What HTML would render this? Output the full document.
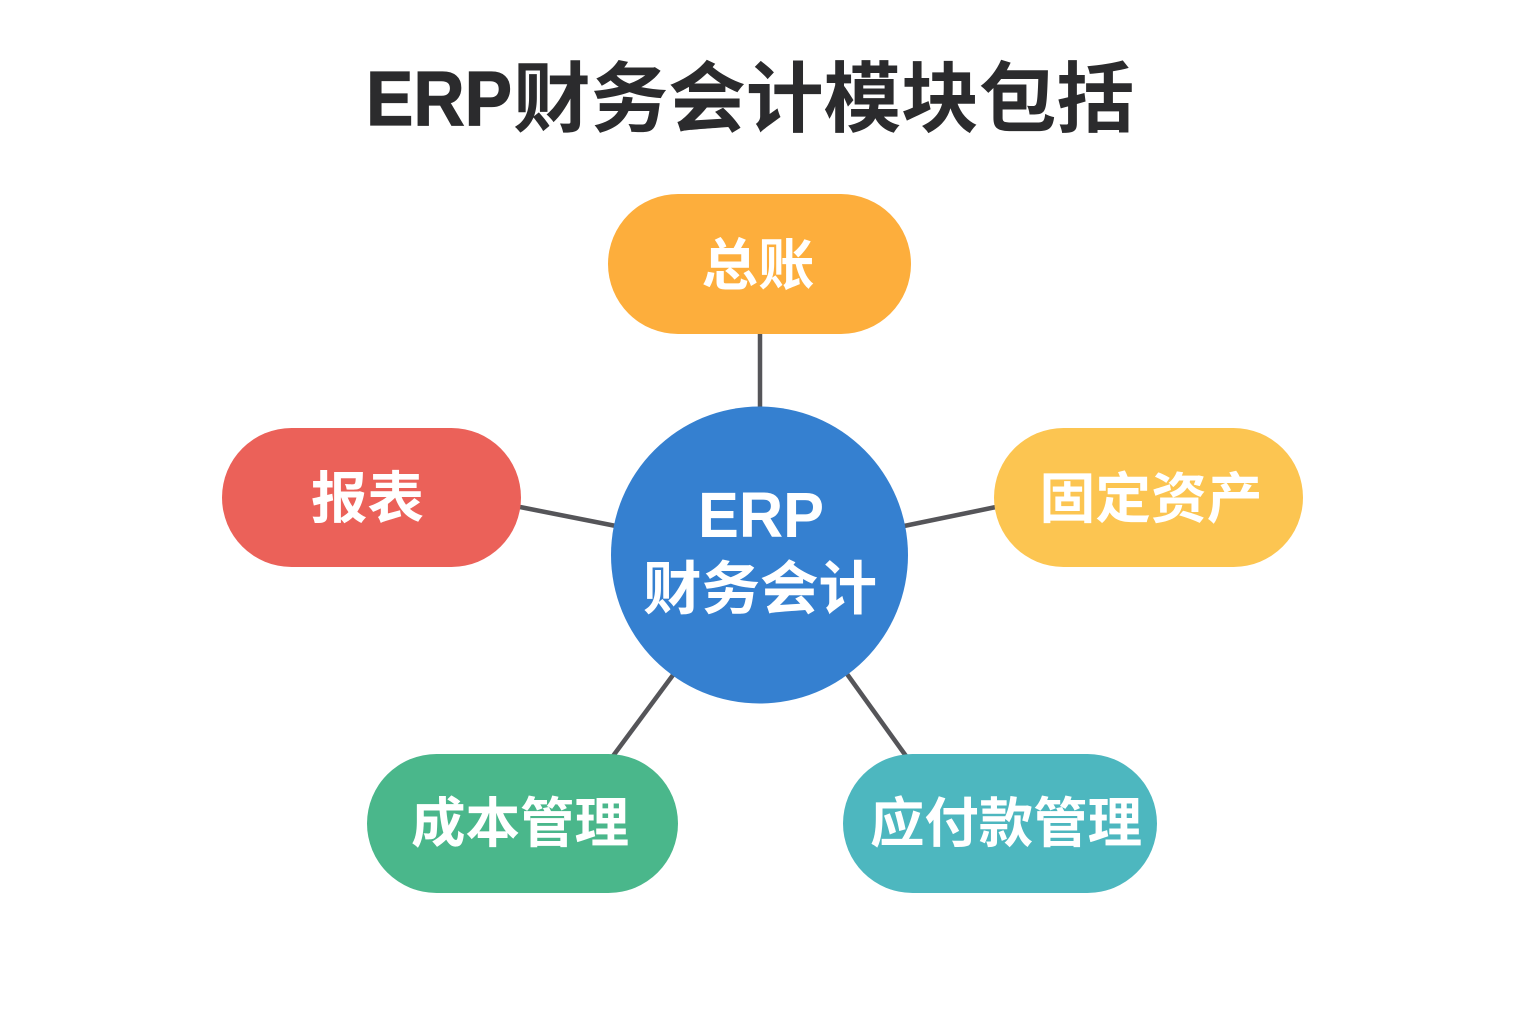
<!DOCTYPE html>
<html lang="zh">
<head>
<meta charset="utf-8">
<style>
html,body{margin:0;padding:0;width:1536px;height:1024px;background:#fff;overflow:hidden}
svg{display:block}
text{font-family:"Liberation Sans","Noto Sans CJK SC",sans-serif;font-weight:700;text-anchor:middle}
</style>
</head>
<body>
<svg width="1536" height="1024" viewBox="0 0 1536 1024" xmlns="http://www.w3.org/2000/svg">
<rect width="1536" height="1024" fill="#ffffff"/>
<text x="366" y="125" font-size="77" fill="#2b2b2d" stroke="#2b2b2d" stroke-width="1.2" style="text-anchor:start" textLength="146" lengthAdjust="spacingAndGlyphs">ERP</text>
<text x="513" y="126" font-size="77" fill="#2b2b2d" style="text-anchor:start" textLength="621" lengthAdjust="spacingAndGlyphs">财务会计模块包括</text>
<g stroke="#555559" stroke-width="4.5" fill="none">
<line x1="760" y1="332" x2="760" y2="408"/>
<line x1="520" y1="507" x2="616" y2="526"/>
<line x1="996" y1="507" x2="904" y2="526"/>
<line x1="613" y1="756" x2="673" y2="675"/>
<line x1="906" y1="756" x2="847" y2="674"/>
</g>
<circle cx="759.5" cy="555" r="148.5" fill="#3580d0"/>
<rect x="608" y="194" width="303" height="140" rx="70" fill="#fdae3c"/>
<rect x="222" y="428" width="299" height="139" rx="69.5" fill="#eb6159"/>
<rect x="994" y="428" width="309" height="139" rx="69.5" fill="#fcc551"/>
<rect x="367" y="754" width="311" height="139" rx="69.5" fill="#4ab78b"/>
<rect x="843" y="754" width="314" height="139" rx="69.5" fill="#4db7bf"/>
<g fill="#ffffff">
<text x="761" y="537" font-size="64" textLength="126" lengthAdjust="spacingAndGlyphs">ERP</text>
<text x="760" y="609" font-size="58" textLength="234" lengthAdjust="spacingAndGlyphs">财务会计</text>
<text x="758" y="285" font-size="56" textLength="113" lengthAdjust="spacingAndGlyphs">总账</text>
<text x="367.5" y="518" font-size="56" textLength="113" lengthAdjust="spacingAndGlyphs">报表</text>
<text x="1151" y="518" font-size="55" textLength="223" lengthAdjust="spacingAndGlyphs">固定资产</text>
<text x="520" y="842" font-size="54" textLength="218" lengthAdjust="spacingAndGlyphs">成本管理</text>
<text x="1006" y="842" font-size="54" textLength="272" lengthAdjust="spacingAndGlyphs">应付款管理</text>
</g>
</svg>
</body>
</html>
